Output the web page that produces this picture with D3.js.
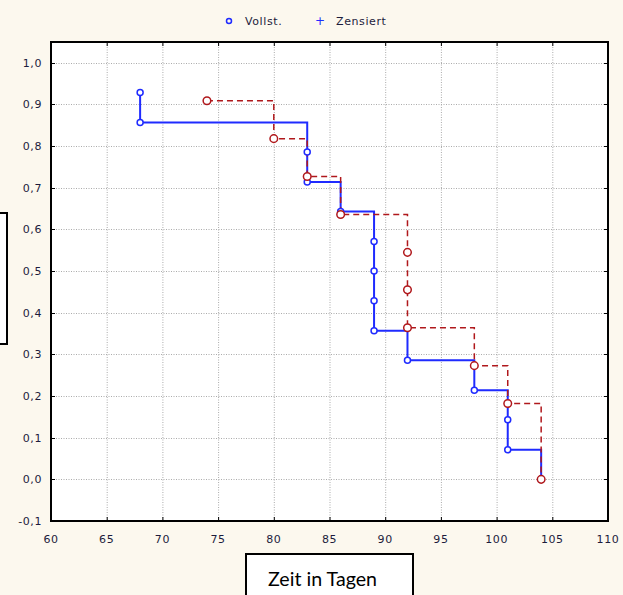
<!DOCTYPE html>
<html>
<head>
<meta charset="utf-8">
<script src="https://cdn.jsdelivr.net/npm/d3@7"></script>
<style>
  body { margin: 0; background: #fcf8ee; }
  svg { display: block; }
  .tick-label { font-family: "DejaVu Sans", Arial, sans-serif; font-size: 11px; fill: #1c1c3c; letter-spacing: 0.6px; }
</style>
</head>
<body>
<svg id="chart" width="623" height="595"></svg>
<script>
/**
 * Kaplan-Meier Überlebenskurven (Vollst. / Zensiert)
 */

// blue curve (solid)
var blueTimes = [68, 68, 83, 83, 86, 89, 89, 89, 89, 92, 98, 101, 101, 104],
    blueSurv  = [0.929, 0.857, 0.786, 0.714, 0.643, 0.571, 0.500, 0.429, 0.357, 0.286, 0.214, 0.143, 0.071, 0.0];

// red curve (dashed)
var redTimes = [74, 80, 83, 86, 92, 92, 92, 98, 101, 104],
    redSurv  = [0.909, 0.818, 0.727, 0.636, 0.545, 0.455, 0.364, 0.273, 0.182, 0.0];

var xTicks = [60, 65, 70, 75, 80, 85, 90, 95, 100, 105, 110],
    yTicks = [-0.1, 0.0, 0.1, 0.2, 0.3, 0.4, 0.5, 0.6, 0.7, 0.8, 0.9, 1.0];

var legendLabels = ["Vollst.", "Zensiert"],
    xTitle = "Zeit in Tagen";

var svg = d3.select("#chart");

var scales = {
  "x": d3.scaleLinear()
    .domain([60, 110])
    .range([51, 608]),
  "y": d3.scaleLinear()
    .domain([-0.1, 1.05])
    .range([521, 42])
};

var x0 = scales.x(60), x1 = scales.x(110),
    y0 = scales.y(-0.1), y1 = scales.y(1.05);

// cream background
svg.append("rect")
  .attr("width", 623).attr("height", 595)
  .attr("fill", "#fcf8ee");

// white plot area
svg.append("rect")
  .attr("x", x0).attr("y", y1)
  .attr("width", x1 - x0).attr("height", y0 - y1)
  .attr("fill", "#ffffff");

// dotted grid
var grid = svg.append("g").attr("stroke", "#ababab").attr("stroke-dasharray", "1,1.5");
grid.selectAll("line.gx")
  .data(xTicks.slice(1, -1)).enter()
  .append("line")
  .attr("x1", (d) => scales.x(d) + 0.5).attr("x2", (d) => scales.x(d) + 0.5)
  .attr("y1", y1).attr("y2", y0);
grid.selectAll("line.gy")
  .data(yTicks.slice(1)).enter()
  .append("line")
  .attr("y1", (d) => Math.round(scales.y(d)) + 0.5).attr("y2", (d) => Math.round(scales.y(d)) + 0.5)
  .attr("x1", x0).attr("x2", x1);

// inward tick marks on all sides
var ticks = svg.append("g").attr("stroke", "#000").attr("stroke-width", 1);
xTicks.slice(1, -1).forEach(function(d) {
  var x = scales.x(d) + 0.5;
  ticks.append("line").attr("x1", x).attr("x2", x).attr("y1", y0).attr("y2", y0 - 4);
  ticks.append("line").attr("x1", x).attr("x2", x).attr("y1", y1).attr("y2", y1 + 4);
});
yTicks.slice(1).forEach(function(d) {
  var y = Math.round(scales.y(d)) + 0.5;
  ticks.append("line").attr("x1", x0).attr("x2", x0 + 4).attr("y1", y).attr("y2", y);
  ticks.append("line").attr("x1", x1).attr("x2", x1 - 4).attr("y1", y).attr("y2", y);
});

// curves
var blueData = blueTimes.map((t, i) => ({ t: t, s: blueSurv[i] })),
    redData = redTimes.map((t, i) => ({ t: t, s: redSurv[i] }));

var line = d3.line()
  .x((d) => scales.x(d.t))
  .y((d) => scales.y(d.s))
  .curve(d3.curveStepAfter);

svg.append("path")
  .datum(blueData)
  .attr("d", line)
  .attr("fill", "none")
  .attr("stroke", "#1f2bff")
  .attr("stroke-width", 2);

svg.append("path")
  .datum(redData)
  .attr("d", line)
  .attr("fill", "none")
  .attr("stroke", "#b0181c")
  .attr("stroke-width", 1.5)
  .attr("stroke-dasharray", "6,4");

svg.append("g").selectAll("circle")
  .data(blueData).enter()
  .append("circle")
  .attr("cx", (d) => scales.x(d.t))
  .attr("cy", (d) => scales.y(d.s))
  .attr("r", 3)
  .attr("fill", "#ffffff")
  .attr("stroke", "#1f2bff")
  .attr("stroke-width", 1.5);

svg.append("g").selectAll("circle")
  .data(redData).enter()
  .append("circle")
  .attr("cx", (d) => scales.x(d.t))
  .attr("cy", (d) => scales.y(d.s))
  .attr("r", 3.8)
  .attr("fill", "#ffffff")
  .attr("stroke", "#b0181c")
  .attr("stroke-width", 1.5);

// plot frame
svg.append("rect")
  .attr("x", x0).attr("y", y1)
  .attr("width", x1 - x0).attr("height", y0 - y1)
  .attr("fill", "none")
  .attr("stroke", "#000")
  .attr("stroke-width", 2);

// tick labels
var fmt = (d) => d3.format(".1f")(d).replace(".", ",").replace("−", "-");
svg.append("g").selectAll("text")
  .data(yTicks).enter()
  .append("text")
  .attr("class", "tick-label")
  .attr("x", 42)
  .attr("y", (d) => scales.y(d) + 4)
  .attr("text-anchor", "end")
  .text(fmt);

svg.append("g").selectAll("text")
  .data(xTicks).enter()
  .append("text")
  .attr("class", "tick-label")
  .attr("x", (d) => scales.x(d))
  .attr("y", 543)
  .attr("text-anchor", "middle")
  .text((d) => d);

// legend
var legend = svg.append("g").attr("transform", "translate(0,21)");
legend.append("circle")
  .attr("cx", 229).attr("cy", 0).attr("r", 2.5)
  .attr("fill", "none").attr("stroke", "#1f2bff").attr("stroke-width", 1.5);
legend.append("text")
  .attr("class", "tick-label")
  .attr("x", 245).attr("y", 4)
  .attr("fill", "#222")
  .text(legendLabels[0]);
legend.append("text")
  .attr("x", 320).attr("y", 4)
  .attr("text-anchor", "middle")
  .attr("font-family", "DejaVu Sans, sans-serif")
  .attr("font-size", 12)
  .attr("fill", "#1f2bff")
  .text("+");
legend.append("text")
  .attr("class", "tick-label")
  .attr("x", 336).attr("y", 4)
  .text(legendLabels[1]);

// cut-off y-axis title box on the left
svg.append("rect")
  .attr("x", -20).attr("y", 213)
  .attr("width", 27).attr("height", 131)
  .attr("fill", "#ffffff")
  .attr("stroke", "#000")
  .attr("stroke-width", 2);

// x-axis title box
svg.append("rect")
  .attr("x", 246).attr("y", 554)
  .attr("width", 167).attr("height", 60)
  .attr("fill", "#ffffff")
  .attr("stroke", "#000")
  .attr("stroke-width", 2);
svg.append("text")
  .attr("x", 268).attr("y", 586)
  .attr("font-family", "Lato, 'Open Sans', sans-serif")
  .attr("font-size", 20)
  .attr("textLength", 109)
  .attr("lengthAdjust", "spacingAndGlyphs")
  .attr("fill", "#000")
  .text(xTitle);
</script>
</body>
</html>
